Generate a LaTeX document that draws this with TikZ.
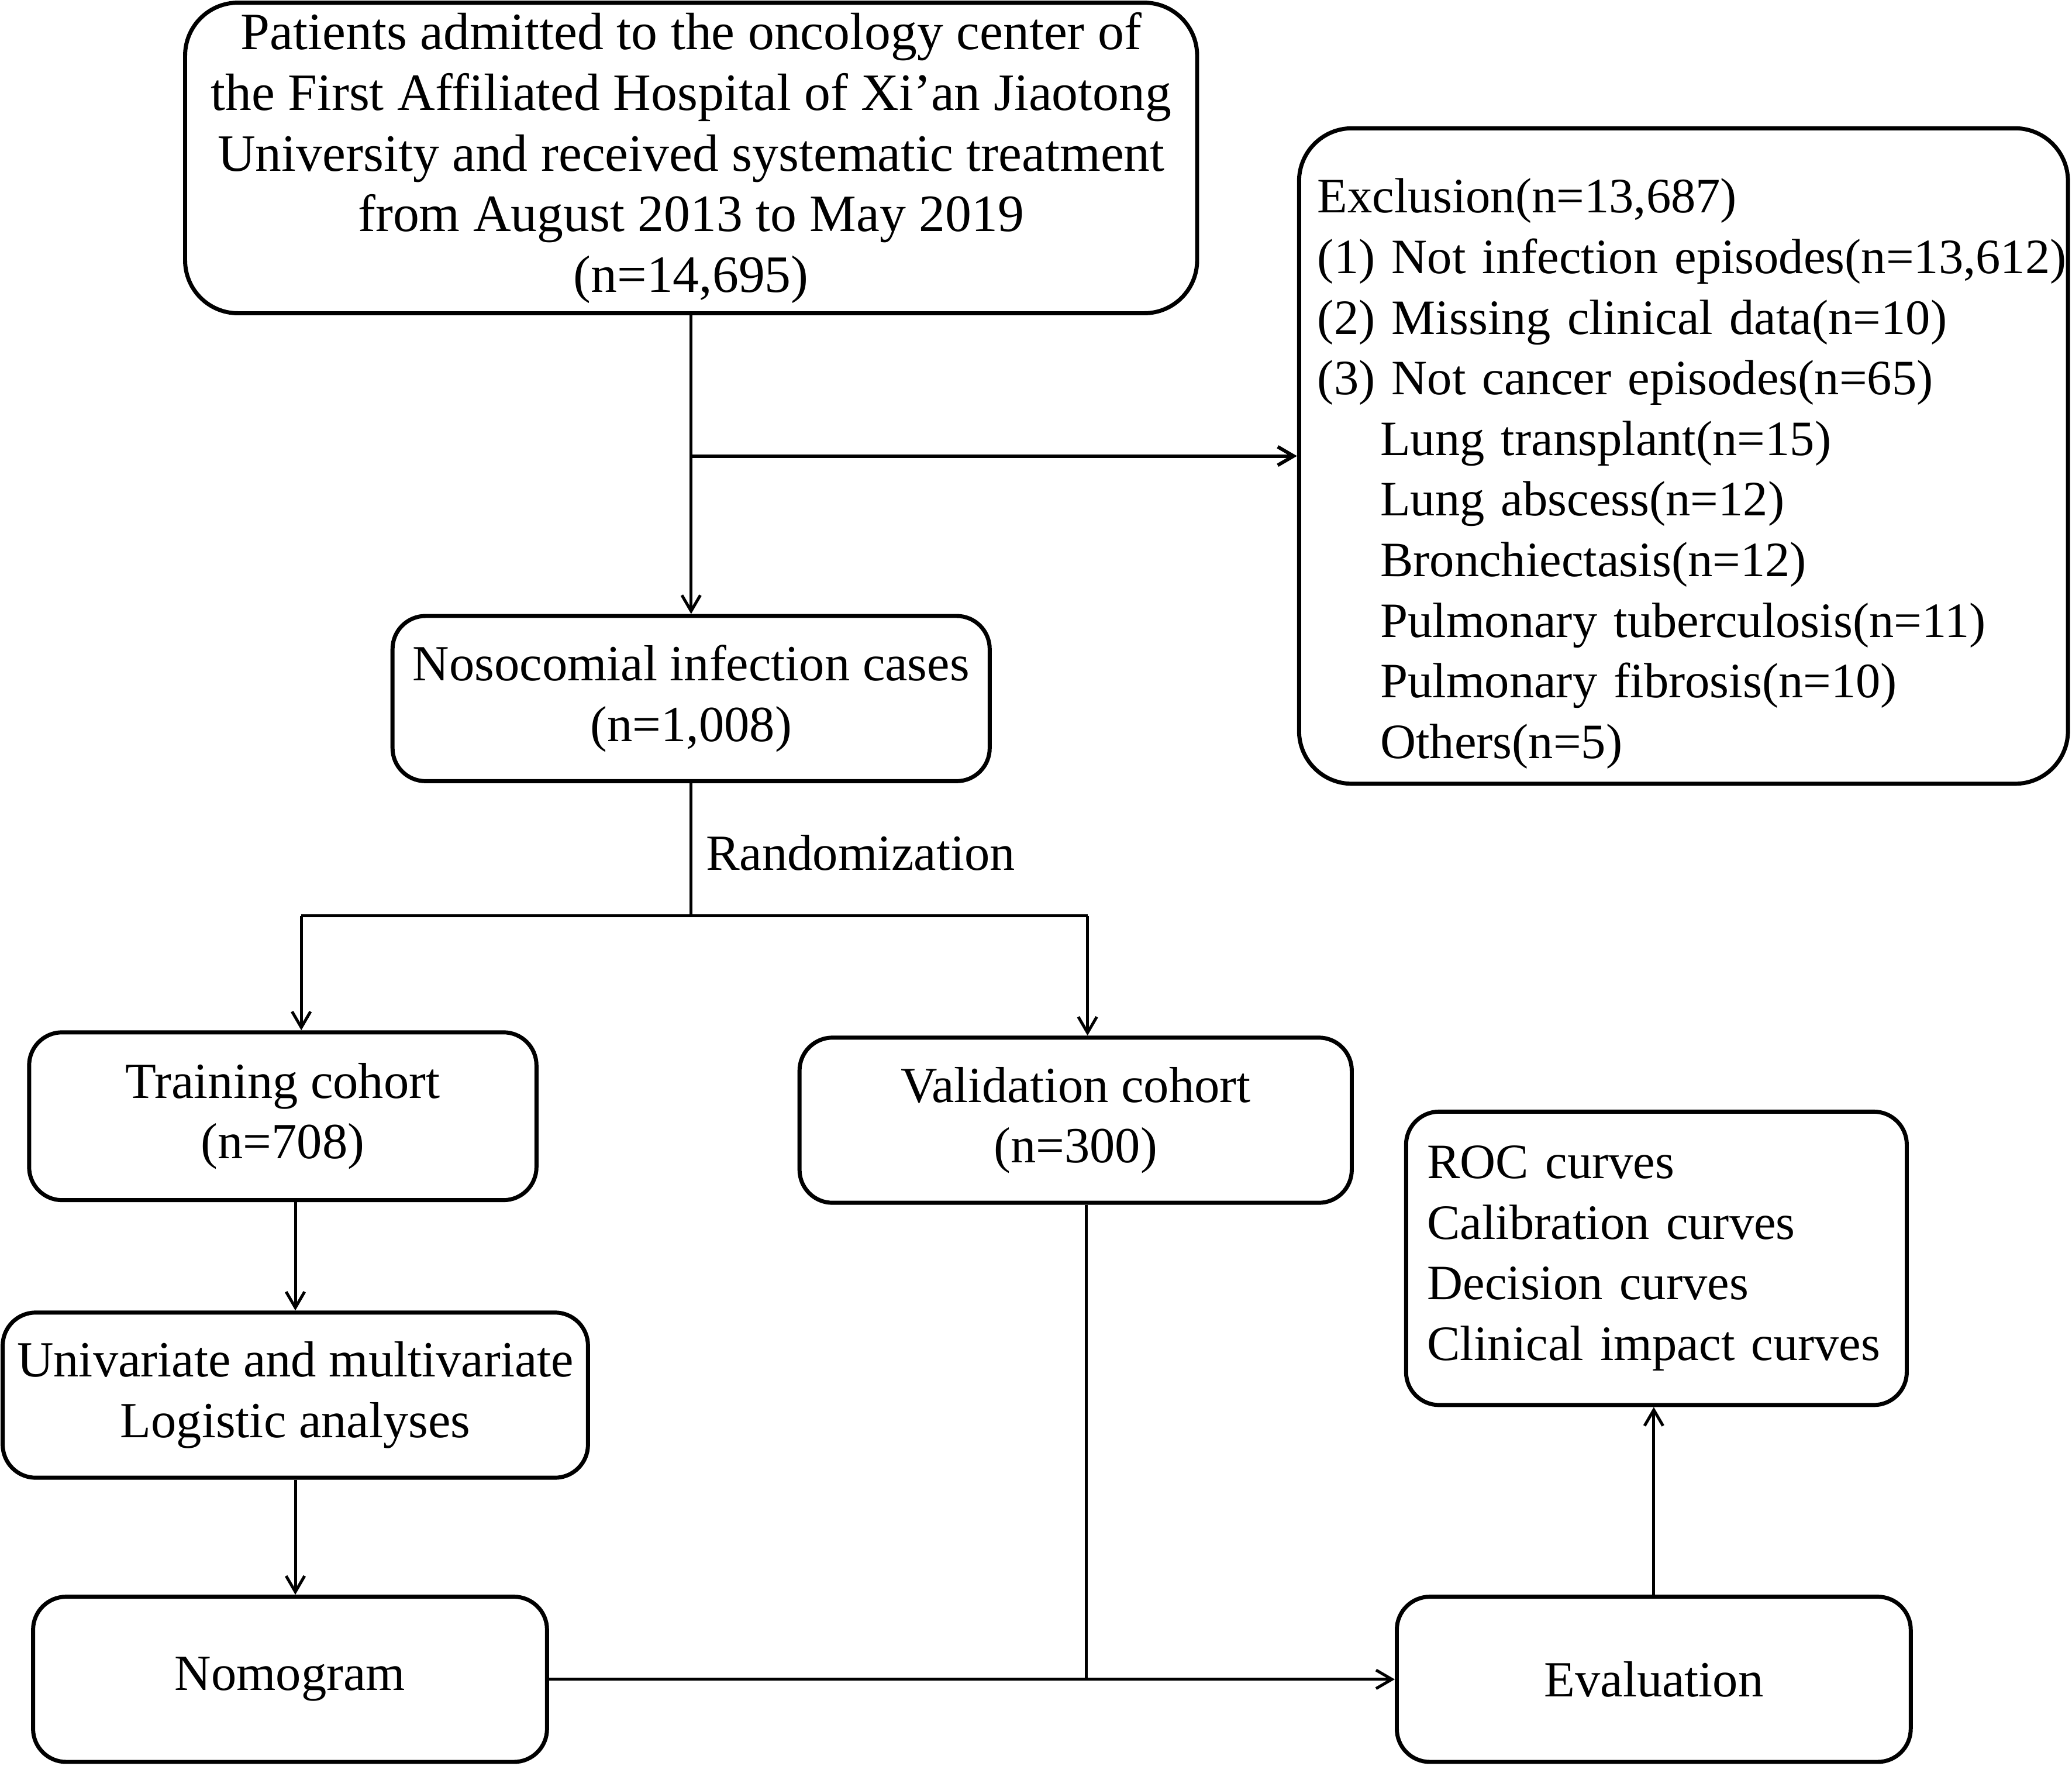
\documentclass[tikz,border=0pt]{standalone}
\usepackage{fontspec}
\setmainfont{Liberation Serif}
\usetikzlibrary{arrows.meta}

\begin{document}
\begin{tikzpicture}[x=0.02cm,y=-0.02cm,
        font=\fontsize{21.8}{26.1}\selectfont,
        box/.style={draw,line width=1.75pt,rounded corners=0.5cm,align=center,inner sep=0pt},
        bigbox/.style={box,rounded corners=0.8cm},
        listtext/.style={font=\fontsize{21.3}{26.1}\selectfont},
        link/.style={line width=1.25pt},
        >={Straight Barb[length=0.24cm,width=0.28cm]}]
            \useasboundingbox (0,0) rectangle (1568,1336);
            % boxes
            \node[bigbox,font=\fontsize{22.6}{26.1}\selectfont,minimum width=15.32cm,minimum height=4.7cm] (patients) at (523,119.5)
                {Patients admitted to the oncology center of\\the First Affiliated Hospital of Xi’an Jiaotong\\University and received systematic treatment\\from August 2013 to May 2019\\(n=14,695)};
            \node[bigbox,listtext,align=left,text width=11.08cm,inner xsep=0.28cm,minimum height=9.92cm] (exclusion) at (1274,345)
                {\rule{0pt}{30pt}Exclusion(n=13,687)\\\mbox{(1) Not infection episodes(n=13,612)}\\(2) Missing clinical data(n=10)\\(3) Not cancer episodes(n=65)\\
                \hspace*{0.95cm}Lung transplant(n=15)\\\hspace*{0.95cm}Lung abscess(n=12)\\\hspace*{0.95cm}Bronchiectasis(n=12)\\
                \hspace*{0.95cm}Pulmonary tuberculosis(n=11)\\\hspace*{0.95cm}Pulmonary fibrosis(n=10)\\\hspace*{0.95cm}Others(n=5)};
            \node[box,minimum width=9.04cm,minimum height=2.5cm] (infection) at (523,528.5) {Nosocomial infection cases\\(n=1,008)};
            \node[box,minimum width=7.68cm,minimum height=2.54cm] (training) at (214,844.5) {Training cohort\\(n=708)};
            \node[box,minimum width=8.36cm,minimum height=2.5cm] (validation) at (814,847.5) {Validation cohort\\(n=300)};
            \node[box,minimum width=8.86cm,minimum height=2.5cm] (analyses) at (223.5,1055.5) {Univariate and multivariate\\Logistic analyses};
            \node[box,minimum width=7.78cm,minimum height=2.5cm] (nomogram) at (219.5,1270.5) {Nomogram};
            \node[box,minimum width=7.78cm,minimum height=2.5cm] (evaluation) at (1251.5,1270.5) {Evaluation};
            \node[box,listtext,align=left,text width=6.94cm,inner xsep=0.32cm,minimum height=4.44cm] (curves) at (1253.5,952)
                {ROC curves\\Calibration curves\\Decision curves\\\mbox{Clinical impact curves}};
            % connectors
            \coordinate (split) at (523,345);
            \coordinate (randleft) at (228,693);
            \coordinate (randright) at (823,693);
            \coordinate (join) at (822,1270.5);
            \draw[link,->] (patients) -- (infection);
            \draw[link,line width=1.5pt,->] (split) -- (split -| exclusion.west);
            \draw[link] (infection) -- (infection |- randleft);
            \node[anchor=west] (randlabel) at (528,645) {Randomization};
            \draw[link] (randleft) -- (randright);
            \draw[link,->] (randleft) -- (randleft |- training.north);
            \draw[link,->] (randright) -- (randright |- validation.north);
            \draw[link,->] (analyses.north |- training.south) -- (analyses.north);
            \draw[link,->] (analyses.south) -- (analyses.south |- nomogram.north);
            \draw[link] (join |- validation.south) -- (join);
            \draw[link,->] (nomogram) -- (evaluation);
            \draw[link,->] (evaluation.north) -- (evaluation.north |- curves.south);
        \end{tikzpicture}
\end{document}
